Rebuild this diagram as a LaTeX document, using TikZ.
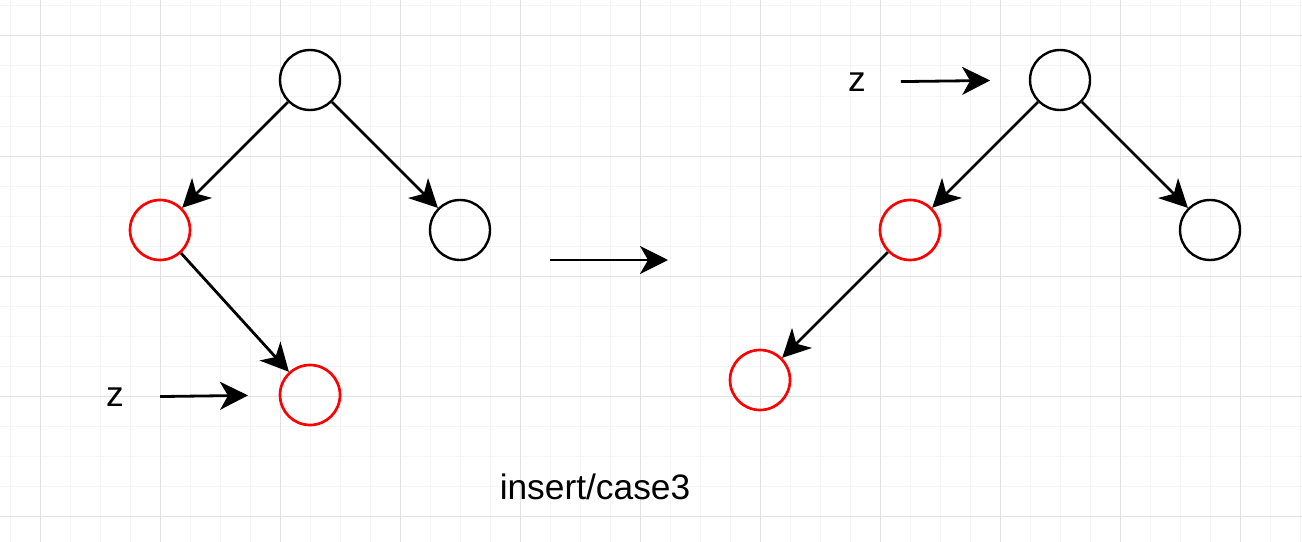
\documentclass[tikz,border=0pt]{standalone}
\usepackage{fontspec}
\setmainfont{Liberation Sans}
\usetikzlibrary{arrows.meta}
\definecolor{gridMajor}{RGB}{226, 226, 226}
\definecolor{gridMinor}{RGB}{245, 245, 245}
\definecolor{nodeRed}{RGB}{255, 0, 0}

\begin{document}
\begin{tikzpicture}[x=0.75pt, y=-0.75pt,
    blk/.style={circle, draw=black, line width=1.8pt, minimum size=45pt, inner sep=0pt},
    red/.style={circle, draw=nodeRed, line width=2pt, minimum size=45pt, inner sep=0pt},
    edge/.style={line width=2.1pt, -{Stealth[length=21pt, width=21pt, inset=6pt]}},
    lbl/.style={inner sep=0pt, font=\fontsize{26.5}{31}\selectfont}]
        \useasboundingbox (0,0) rectangle (1302,542);
        \fill[white] (0,0) rectangle (1302,542);
        % grid
        \foreach \x in {10,40,...,1300} \draw[gridMinor, line width=0.75pt] (\x,0) -- (\x,542);
        \foreach \y in {6,36,...,540} \draw[gridMinor, line width=0.75pt] (0,\y) -- (1302,\y);
        \foreach \x in {40,160,...,1300} \draw[gridMajor, line width=0.75pt] (\x,0) -- (\x,542);
        \foreach \y in {36,156,...,540} \draw[gridMajor, line width=0.75pt] (0,\y) -- (1302,\y);

        % before
        \node[blk] (r1) at (310,80) {};
        \node[red] (a1) at (160,230) {};
        \node[blk] (u1) at (460,230) {};
        \node[red] (b1) at (310,395) {};
        \node[lbl] (z1) at (115,397) {z};
        \draw[edge] (r1) -- (a1);
        \draw[edge] (r1) -- (u1);
        \draw[edge] (a1) -- (b1);
        \draw[edge, shorten <=27pt, shorten >=23pt] (z1.east) -- (b1.west);

        % after
        \node[blk] (r2) at (1060,80) {};
        \node[red] (a2) at (910,230) {};
        \node[blk] (u2) at (1210,230) {};
        \node[red] (b2) at (760,380) {};
        \node[lbl] (z2) at (857,82) {z};
        \draw[edge] (r2) -- (a2);
        \draw[edge] (r2) -- (u2);
        \draw[edge] (a2) -- (b2);
        \draw[edge, shorten <=26pt, shorten >=29pt] (z2.east) -- (r2.west);

        \coordinate (s) at (550,260);
        \coordinate (t) at (668,260);
        \draw[edge] (s) -- (t);

        \node[lbl] (cap) at (595,487) {insert/case3};
      \end{tikzpicture}
\end{document}
